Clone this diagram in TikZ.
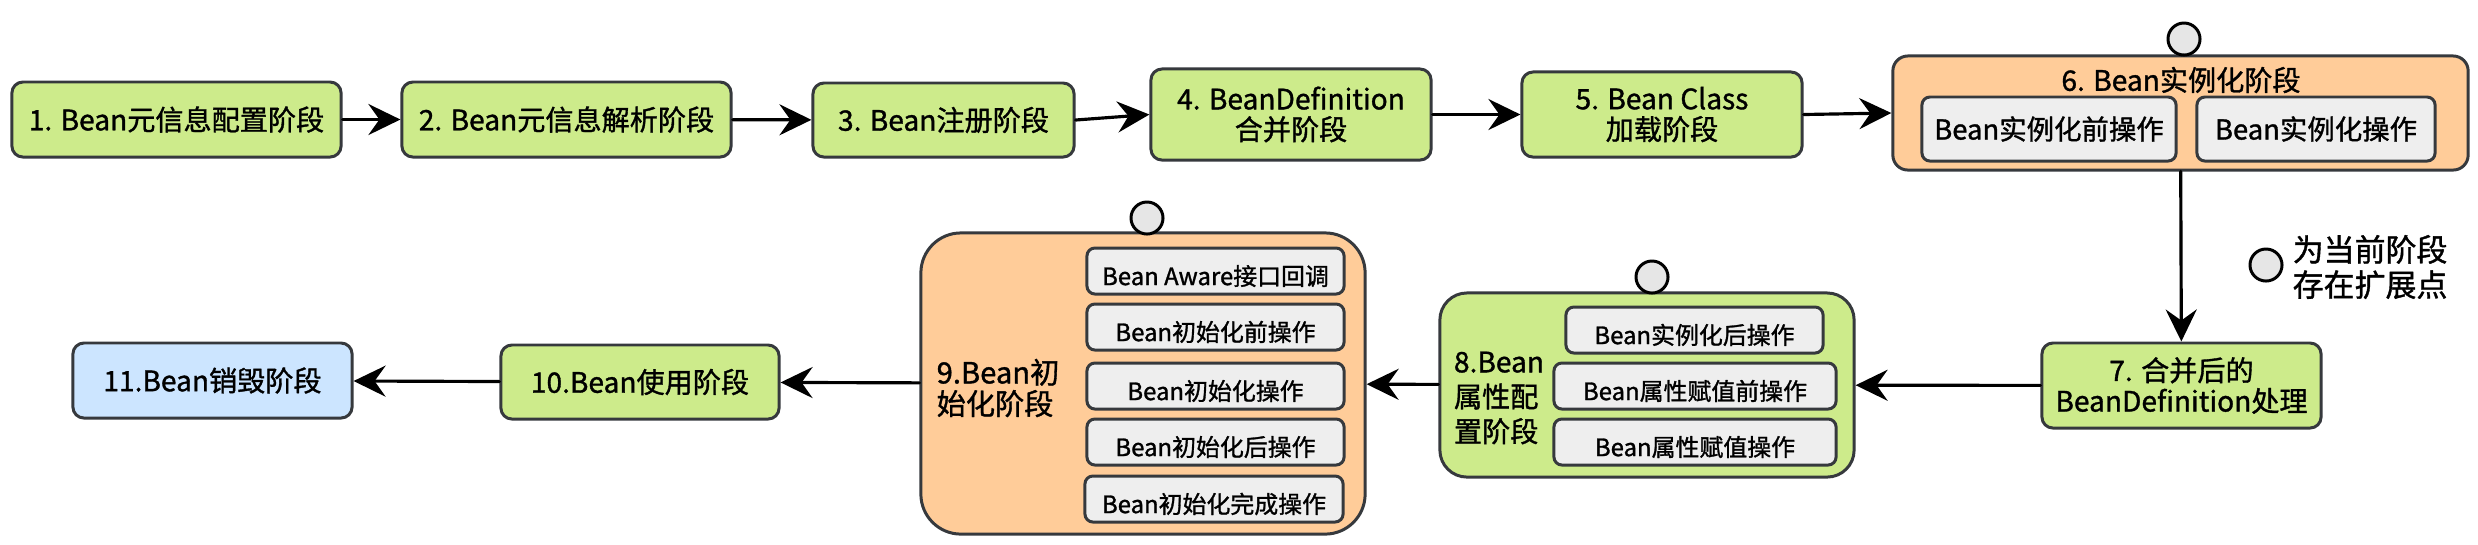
\documentclass[tikz,border=0pt]{standalone}
\usepackage{fontspec}
\setmainfont{Noto Sans CJK SC}[FakeBold=1.2]
\usetikzlibrary{arrows.meta}
\definecolor{stgreen}{HTML}{CDEB8B}
\definecolor{storange}{HTML}{FFCC99}
\definecolor{stblue}{HTML}{CCE5FF}
\definecolor{opgray}{HTML}{EEEEEE}
\definecolor{edgegray}{HTML}{36393D}
\definecolor{dotgray}{HTML}{E6E6E6}
\tikzset{
  stage/.style={draw=edgegray,line width=0.85pt,rounded corners=0.11cm,fill=stgreen,
                align=center,inner sep=0pt,font=\fontsize{8}{8.7}\selectfont},
  opbox/.style={draw=edgegray,line width=0.85pt,rounded corners=0.08cm,fill=opgray,
                inner sep=0pt,text height=9pt,text depth=1pt,font=\fontsize{6.8}{8}\selectfont},
  extpt/.style={circle,draw=black,fill=dotgray,line width=0.85pt,minimum size=0.32cm,inner sep=0pt},
  flow/.style={line width=0.9pt,-{Stealth[length=3.2mm,width=3.1mm,inset=1.1mm]}},
  every picture/.style={line cap=round,line join=round}}

\begin{document}
\begin{tikzpicture}[x=0.01cm,y=-0.01cm]
  \useasboundingbox (0,0) rectangle (2478,544);
  % top row
  \node[stage,minimum width=3.29cm,minimum height=0.75cm] (s1) at (176.5,119.5){1. Bean元信息配置阶段};
  \node[stage,minimum width=3.29cm,minimum height=0.75cm] (s2) at (566.5,119.5){2. Bean元信息解析阶段};
  \node[stage,minimum width=2.61cm,minimum height=0.74cm] (s3) at (943.5,120){3. Bean注册阶段};
  \node[stage,minimum width=2.80cm,minimum height=0.91cm] (s4) at (1291,114.5){4. BeanDefinition\\合并阶段};
  \node[stage,minimum width=2.80cm,minimum height=0.85cm] (s5) at (1662,114.5){5. Bean Class\\加载阶段};
  \node[stage,fill=storange,rounded corners=0.15cm,minimum width=5.75cm,minimum height=1.14cm] (s6) at (2180.5,113){};
  \node[font=\fontsize{8}{8.7}\selectfont,inner sep=0pt] (t6) at (2181,80){6. Bean实例化阶段};
  \node[opbox,text height=,text depth=,font=\fontsize{7.8}{9}\selectfont,minimum width=2.54cm,minimum height=0.64cm] (o6a) at (2049,129){Bean实例化前操作};
  \node[opbox,text height=,text depth=,font=\fontsize{7.8}{9}\selectfont,minimum width=2.38cm,minimum height=0.64cm] (o6b) at (2316,129){Bean实例化操作};
  \node[extpt] (e6) at (2184,39){};
  % right side and legend
  \node[stage,minimum width=2.79cm,minimum height=0.85cm] (s7) at (2181.5,385.5){7. 合并后的\\BeanDefinition处理};
  \node[extpt] (lg) at (2266,265){};
  \node[anchor=west,align=left,inner sep=0pt,font=\fontsize{8.8}{10}\selectfont] (lgt) at (2292,267){为当前阶段\\存在扩展点};
  % stage 8
  \node[stage,rounded corners=0.27cm,minimum width=4.14cm,minimum height=1.84cm] (s8) at (1647,385){};
  \node[align=left,inner sep=0pt,font=\fontsize{8}{9.9}\selectfont] (t8) at (1499,398){8.Bean\\属性配\\置阶段};
  \node[opbox,minimum width=2.57cm,minimum height=0.46cm] (o8a) at (1694.5,330){Bean实例化后操作};
  \node[opbox,minimum width=2.82cm,minimum height=0.46cm] (o8b) at (1695,386){Bean属性赋值前操作};
  \node[opbox,minimum width=2.82cm,minimum height=0.46cm] (o8c) at (1695,442){Bean属性赋值操作};
  \node[extpt] (e8) at (1652,277){};
  % stage 9
  \node[stage,fill=storange,rounded corners=0.4cm,minimum width=4.44cm,minimum height=3.01cm] (s9) at (1143,383.5){};
  \node[align=left,inner sep=0pt,font=\fontsize{8.3}{8.9}\selectfont] (t9) at (998,388){9.Bean初\\始化阶段};
  \node[opbox,minimum width=2.57cm,minimum height=0.46cm] (o9a) at (1215.5,271){Bean Aware接口回调};
  \node[opbox,minimum width=2.57cm,minimum height=0.46cm] (o9b) at (1215.5,327){Bean初始化前操作};
  \node[opbox,minimum width=2.57cm,minimum height=0.46cm] (o9c) at (1215.5,386){Bean初始化操作};
  \node[opbox,minimum width=2.57cm,minimum height=0.46cm] (o9d) at (1215.5,442){Bean初始化后操作};
  \node[opbox,minimum width=2.58cm,minimum height=0.46cm] (o9e) at (1214,499){Bean初始化完成操作};
  \node[extpt] (e9) at (1147,218){};
  % bottom left
  \node[stage,minimum width=2.78cm,minimum height=0.74cm] (s10) at (640,382){10.Bean使用阶段};
  \node[stage,fill=stblue,minimum width=2.79cm,minimum height=0.75cm] (s11) at (212.5,380.5){11.Bean销毁阶段};
  % flow
  \draw[flow] (s1)--(s2); \draw[flow] (s2)--(s3); \draw[flow] (s3.east)--(s4.west);
  \draw[flow] (s4)--(s5); \draw[flow] (s5.east)--(s6.west); \draw[flow] (s6)--(s7);
  \draw[flow] (s7)--(s8); \draw[flow] (s8)--(s9); \draw[flow] (s9)--(s10); \draw[flow] (s10)--(s11);
\end{tikzpicture}
\end{document}
